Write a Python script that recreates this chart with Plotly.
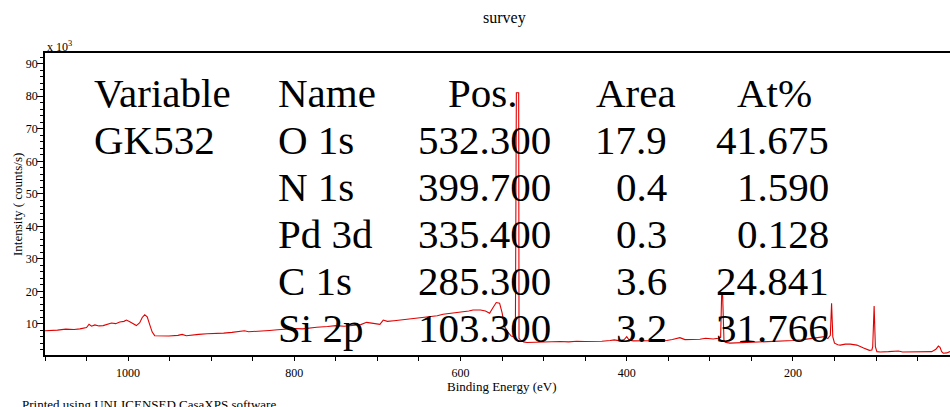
import plotly.graph_objects as go

# ---- data (binding energy in eV, intensity in 10^3 counts/s) ----
binding_energy = [
    1100, 1098, 1085, 1075, 1065, 1058, 1050, 1047, 1044, 1040, 1035, 1030, 1025, 1020,
    1015, 1010, 1005, 1002, 998, 994, 990, 986, 983, 980, 977, 974, 971, 968, 960, 951,
    940, 935, 930, 925, 915, 905, 895, 885, 875, 865, 860, 855, 845, 840, 830, 820, 813,
    800, 790, 780, 773, 760, 750, 740, 733, 720, 713, 705, 697, 693, 688, 680, 670, 660,
    653, 645, 635, 628, 621, 610, 600, 590, 585, 576, 570, 565, 561, 557, 553, 550, 547,
    543, 539, 536, 534, 532.8, 530.0, 529.6, 528, 524, 520, 510, 500, 490, 480, 470, 460,
    450, 440, 430, 420, 415, 408, 403, 400, 397, 392, 380, 370, 360, 352, 345, 336, 330,
    320, 312, 305, 296, 290, 287, 285.8, 284.6, 283.0, 281.5, 276, 265, 252, 240, 228,
    215, 200, 190, 180, 175, 168, 162, 158, 155, 153.5, 152, 150, 146, 143, 137, 131,
    127, 123, 115, 108, 105, 104, 102.3, 100.8, 99, 95, 85, 80, 73, 68, 60, 50, 40, 33,
    28, 25, 23, 21, 19, 15, 11,
]
intensity_k = [
    7.9, 7.9, 8.1, 8.4, 8.3, 8.5, 8.9, 9.9, 9.3, 9.7, 9.4, 9.5, 9.9, 10.3,
    10.1, 10.6, 10.8, 11.2, 10.7, 10.0, 9.5, 10.4, 12.0, 12.8, 12.2, 9.8, 7.5, 6.4, 6.3, 6.3,
    6.5, 6.8, 6.4, 6.6, 6.8, 7.0, 7.0, 7.2, 7.4, 7.6, 7.9, 7.6, 7.7, 7.8, 8.0, 8.2, 8.4,
    8.6, 8.5, 8.9, 9.0, 9.2, 9.5, 9.3, 9.4, 9.8, 10.5, 10.2, 9.9, 11.2, 10.8, 11.0, 11.3, 11.5,
    11.8, 12.0, 12.4, 12.5, 13.0, 13.3, 13.5, 14.0, 14.3, 14.3, 14.0, 13.3, 15.0, 16.6, 16.4, 13.5, 9.2,
    7.5, 6.3, 6.1, 6.3, 81.1, 81.1, 5.6, 5.1, 4.5, 4.3, 4.4, 4.5, 4.4, 4.6, 4.5, 4.7,
    4.6, 4.6, 4.7, 4.9, 5.1, 4.8, 5.2, 6.1, 5.0, 4.8, 4.9, 4.8, 5.0, 4.9, 5.2, 5.8, 5.2,
    5.3, 5.3, 5.6, 5.4, 5.6, 5.9, 18.9, 18.9, 5.0, 4.4, 4.1, 4.2, 4.3, 4.5, 4.5,
    4.8, 4.9, 5.1, 5.4, 5.6, 5.8, 6.1, 5.5, 6.5, 16.4, 6.0, 4.1, 3.6, 3.5, 3.8, 3.8,
    3.6, 3.5, 2.6, 1.9, 2.0, 3.0, 15.5, 3.0, 1.5, 1.4, 1.5, 1.6, 1.7, 1.4, 1.4, 1.5, 1.5, 1.5,
    2.2, 3.2, 2.8, 1.5, 1.0, 1.1, 1.5,
]

x_tickvals = [1000, 800, 600, 400, 200]
y_tickvals = [10, 20, 30, 40, 50, 60, 70, 80, 90]

# ---- quantification table (text) ----
table_header = ["Variable", "Name", "Pos.", "Area", "At%"]
variable_name = "GK532"
peak_names = ["O 1s", "N 1s", "Pd 3d", "C 1s", "Si 2p"]
peak_pos = ["532.300", "399.700", "335.400", "285.300", "103.300"]
peak_area = ["17.9", "0.4", "0.3", "3.6", "3.2"]
peak_at = ["41.675", "1.590", "0.128", "24.841", "31.766"]

W, H = 950, 407
ML, MR, MT, MB = 45, 0, 53, 52
PW, PH = W - ML - MR, H - MT - MB
SERIF = "Liberation Serif, Times New Roman, serif"


def px_x(px):
    return (px - ML) / PW


def px_y(py):
    return (H - MB - py) / PH


fig = go.Figure()
fig.add_trace(go.Scatter(
    x=binding_energy, y=intensity_k, mode="lines",
    line=dict(color="rgb(225,0,0)", width=1.1), showlegend=False,
    hoverinfo="x+y",
))

ann = []

def txt(text, px, py, size, xanchor="left", angle=0):
    ann.append(dict(text=text, x=px_x(px), y=px_y(py), xref="paper", yref="paper",
                    xanchor=xanchor, yanchor="middle", showarrow=False, textangle=angle,
                    font=dict(family=SERIF, size=size, color="black")))

# table
FS = 41
row_mid = [93.0 + 47 * i for i in range(6)]
txt(table_header[0], 92, row_mid[0], FS)
txt(table_header[1], 276, row_mid[0], FS)
txt(table_header[2], 483, row_mid[0], FS, "center")
txt(table_header[3], 635.5, row_mid[0], FS, "center")
txt(table_header[4], 774, row_mid[0], FS, "center")
txt(variable_name, 92, row_mid[1], FS)
for i in range(len(peak_names)):
    r = row_mid[i + 1]
    txt(peak_names[i], 276, r, FS)
    txt(peak_pos[i], 553, r, FS, "right")
    txt(peak_area[i], 669, r, FS, "right")
    txt(peak_at[i], 831, r, FS, "right")

# other labels
txt("survey", 504, 18, 16, "center")
txt("x 10<sup>3</sup>", 45, 46, 12)
txt("Intensity ( counts/s)", 17, 205, 13, "center", -90)
txt("Binding Energy (eV)", 502, 386, 13, "center")
txt("Printed using UNLICENSED CasaXPS software", 20, 404, 13)

fig.update_layout(
    width=W, height=H,
    margin=dict(l=ML, r=MR, t=MT, b=MB, pad=0, autoexpand=False),
    paper_bgcolor="white", plot_bgcolor="white",
    annotations=ann,
    font=dict(family=SERIF, color="black"),
    xaxis=dict(
        range=[1100, 11], tickvals=x_tickvals, ticks="outside", ticklen=4,
        tickcolor="black", tickwidth=1, showline=True, linecolor="black", linewidth=1.5,
        mirror=True, showgrid=False, zeroline=False, automargin=False,
        tickfont=dict(family=SERIF, size=12, color="black"), ticklabelstandoff=2,
        minor=dict(dtick=50, tick0=0, ticks="outside", ticklen=4, tickcolor="black", showgrid=False),
    ),
    yaxis=dict(
        range=[0.46, 93.3], tickvals=y_tickvals, ticks="outside", ticklen=6,
        tickcolor="black", tickwidth=1, showline=True, linecolor="black", linewidth=1.5,
        mirror=False, showgrid=False, zeroline=False, automargin=False,
        tickfont=dict(family=SERIF, size=12, color="black"), ticklabelstandoff=-3,
        minor=dict(dtick=2, tick0=0, ticks="outside", ticklen=3, tickcolor="black", showgrid=False),
    ),
)

fig.write_html(
    "out.html",
    config={"displayModeBar": False},
    post_script="document.body.style.margin='0';document.body.style.overflow='hidden';",
)
